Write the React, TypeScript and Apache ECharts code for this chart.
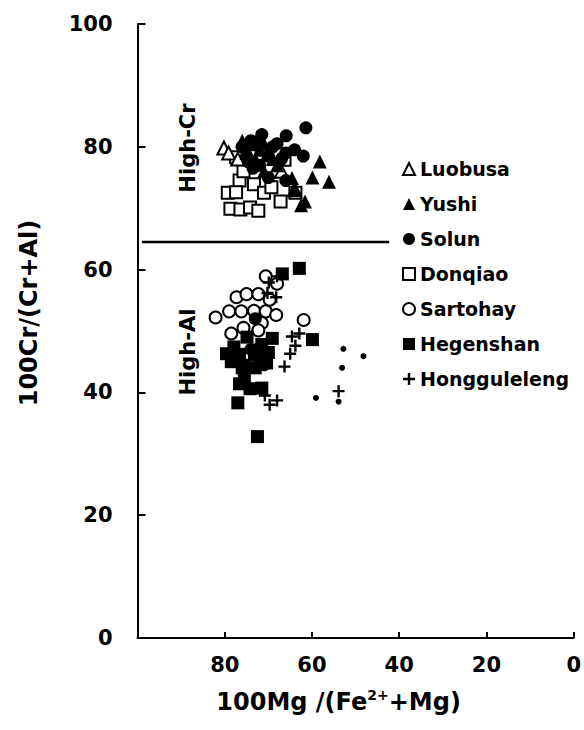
import React, { useEffect, useRef } from "react";
import * as echarts from "echarts";

const FONT = "DejaVu Sans";

const xTicks = [100, 80, 60, 40, 20, 0];
const yTicks = [0, 20, 40, 60, 80, 100];

const luobusa: number[][] = [
  [80.2, 79.8], [79.1, 79], [77, 78], [73, 80.5], [70, 79], [67, 76], [64, 73],
];
const yushi: number[][] = [
  [58.2, 77.6], [56.1, 74.3], [59.9, 75], [61.6, 71.1], [63.8, 73], [64.6, 74.9],
  [75, 79], [73, 78], [71, 76], [68, 77], [76, 81], [62.5, 70.5], [74, 80.5], [72, 79.5],
  [69, 78], [71, 80.5],
];
const solun: number[][] = [
  [61.4, 83.1], [65.9, 81.8], [71.5, 82], [74, 81], [76, 80], [69, 80], [64, 79.5],
  [67, 78], [72, 77], [62, 78.5], [70, 75], [66, 74.5], [75, 78.5], [73.5, 76.5],
  [70, 78.5], [68, 80.5], [72.5, 80.5], [66, 79], [74.5, 77.5],
  [73, 52], [71, 44.5], [74, 47],
];
const donqiao: number[][] = [
  [77.4, 78.3], [76.6, 74.5], [79.3, 72.5], [77.4, 72.6], [78.7, 69.9], [76.4, 69.8],
  [74.2, 70.1], [72.3, 69.6], [73.3, 73.9], [71, 72.5], [67.2, 71.1], [63.8, 72.5],
  [66.3, 77.9], [71.5, 78.7], [75.7, 76], [69.3, 73.4],
];
const sartohay: number[][] = [
  [82.1, 52.2], [77.3, 55.5], [75, 56], [72.3, 56], [70.6, 58.9], [68, 57.7],
  [79, 53.2], [76.2, 53.2], [73.3, 53.3], [70.6, 53.2], [68.2, 52.6], [61.9, 51.8],
  [71.5, 51.3], [75.7, 50.5], [78.5, 49.6], [69.7, 55.1], [72.3, 50.1],
];
const hegenshan: number[][] = [
  [62.9, 60.2], [66.8, 59.3], [59.9, 48.6], [69.1, 48.8], [79.6, 46.3], [76.6, 46.2],
  [73.2, 46.1], [74.9, 49], [76.6, 41.4], [77, 38.3], [74.2, 40.6], [72.5, 32.8],
  [71.5, 40.7], [70.4, 44.8], [75.7, 44.4], [77.9, 47.4], [71.5, 47.8], [78.5, 45],
  [75.5, 42.5], [73, 44], [72, 46], [70, 46.5], [76, 44],
];
const hongguleleng: number[][] = [
  [69.9, 57.9], [68, 58.9], [70.2, 56.2], [64.6, 49.1], [62.9, 49.6], [63.8, 47.6],
  [65, 46.3], [66.3, 44.2], [70.8, 39.5], [68, 38.7], [69.7, 38], [53.9, 40.2],
  [68.2, 55.5], [72.9, 47.1],
];
const smallDots: number[][] = [
  [52.8, 47.1], [53.1, 44], [48.2, 45.9], [59.1, 39.1], [53.9, 38.5],
];
const dividerValue = 64.5;
const dividerX = [99, 42.3];

const PLUS = "path://M4,0H6V4H10V6H6V10H4V6H0V4H4Z";

export default function App() {
  const ref = useRef<HTMLDivElement>(null);
  useEffect(() => {
    if (!ref.current) return;
    const chart = echarts.init(ref.current, null, { renderer: "svg" });
    const open = { color: "#fff", borderColor: "#000", borderWidth: 2, opacity: 1 };
    const filled = { color: "#000", borderColor: "#000", borderWidth: 0, opacity: 1 };
    const mk = (name: string, data: number[][], symbol: string, size: number, style: any) => ({
      name,
      type: "scatter",
      data,
      symbol,
      symbolSize: size,
      itemStyle: style,
      z: 3,
    });
    chart.setOption({
      animation: false,
      backgroundColor: "#fff",
      grid: { left: 137.5, right: 9, top: 24, bottom: 92 },
      legend: {
        orient: "vertical",
        left: 397,
        top: 154,
        data: ["Luobusa", "Yushi", "Solun", "Donqiao", "Sartohay", "Hegenshan", "Hongguleleng"],
        itemWidth: 12,
        itemHeight: 12,
        itemGap: 15,
        textStyle: { fontFamily: FONT, fontWeight: "bold", fontSize: 19, color: "#000", lineHeight: 20 },
      },
      xAxis: {
        type: "value",
        inverse: true,
        min: 0,
        max: 100,
        interval: 20,
        name: "100Mg /(Fe{sup|2+}+Mg)",
        nameLocation: "middle",
        nameGap: 50,
        nameTextStyle: {
          fontFamily: FONT,
          fontWeight: "bold",
          fontSize: 24,
          color: "#000",
          padding: [0, 34, 0, 0],
          rich: { sup: { fontFamily: FONT, fontWeight: "bold", fontSize: 14, color: "#000", padding: [0, 0, 14, 0] } },
        },
        axisLine: { onZero: false, lineStyle: { color: "#000", width: 2 } },
        axisTick: { inside: true, length: 6, lineStyle: { color: "#000", width: 2 } },
        axisLabel: {
          fontFamily: FONT, fontWeight: "bold", fontSize: 21, color: "#000", margin: 16,
          formatter: (v: number) => (xTicks.includes(v) && v !== 100 ? String(v) : ""),
        },
        splitLine: { show: false },
      },
      yAxis: {
        type: "value",
        position: "left",
        min: 0,
        max: 100,
        interval: 20,
        name: "100Cr/(Cr+Al)",
        nameLocation: "middle",
        nameGap: 97,
        nameTextStyle: { fontFamily: FONT, fontWeight: "bold", fontSize: 24, color: "#000", padding: [0, 0, 0, 36] },
        axisLine: { onZero: false, lineStyle: { color: "#000", width: 2 } },
        axisTick: { inside: true, length: 8, lineStyle: { color: "#000", width: 2 } },
        axisLabel: {
          fontFamily: FONT, fontWeight: "bold", fontSize: 21, color: "#000", margin: 25,
          formatter: (v: number) => (yTicks.includes(v) ? String(v) : ""),
        },
        splitLine: { show: false },
      },
      graphic: [
        {
          type: "text", x: 188, y: 148, rotation: Math.PI / 2,
          style: { text: "High-Cr", fontFamily: FONT, fontWeight: "bold", fontSize: 21, fill: "#000", align: "center", verticalAlign: "middle" },
        },
        {
          type: "text", x: 188, y: 352, rotation: Math.PI / 2,
          style: { text: "High-Al", fontFamily: FONT, fontWeight: "bold", fontSize: 21, fill: "#000", align: "center", verticalAlign: "middle" },
        },
      ],
      series: [
        {
          name: "divider",
          type: "line",
          data: [[dividerX[0], dividerValue], [dividerX[1], dividerValue]],
          symbol: "none",
          lineStyle: { color: "#000", width: 2.5 },
          z: 1,
        },
        mk("Donqiao", donqiao, "rect", 12, open),
        mk("Sartohay", sartohay, "circle", 12, open),
        mk("Luobusa", luobusa, "triangle", 13, open),
        mk("Yushi", yushi, "triangle", 14, filled),
        mk("Solun", solun, "circle", 13, filled),
        mk("Hegenshan", hegenshan, "rect", 13, filled),
        mk("Hongguleleng", hongguleleng, PLUS, 12, filled),
        { name: "dots", type: "scatter", data: smallDots, symbol: "circle", symbolSize: 6, itemStyle: filled, z: 3 },
      ],
    });
    return () => chart.dispose();
  }, []);
  return <div ref={ref} style={{ position: "fixed", left: 0, top: 0, width: 584, height: 730 }} />;
}
